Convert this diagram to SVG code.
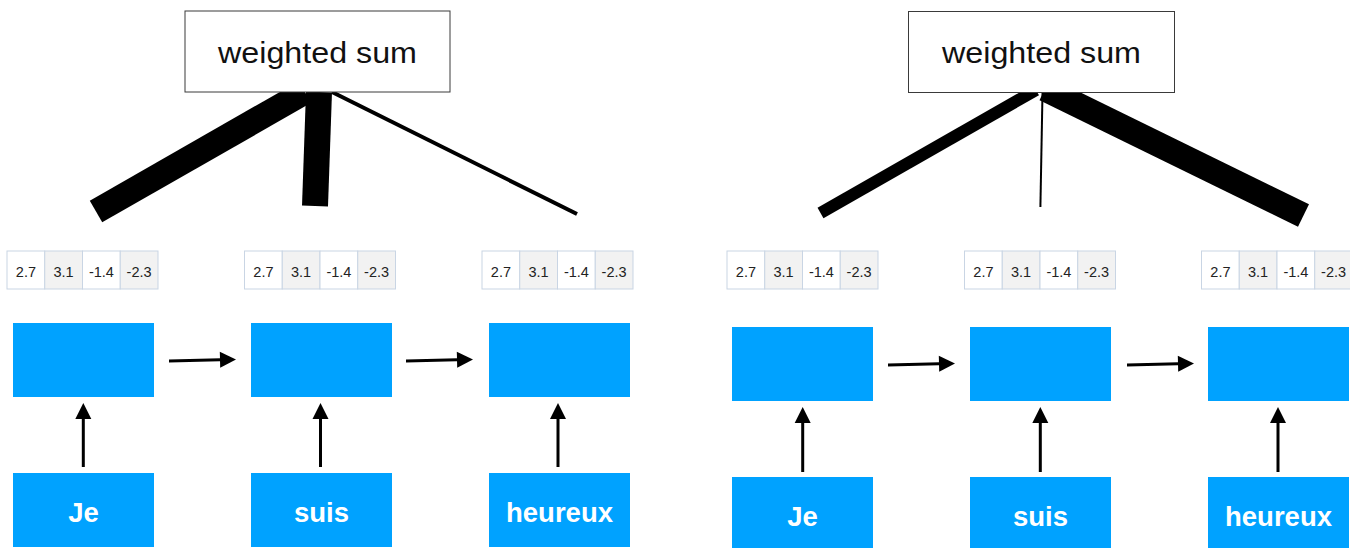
<svg xmlns="http://www.w3.org/2000/svg" xmlns:xlink="http://www.w3.org/1999/xlink" width="1350" height="548" viewBox="0 0 1350 548">
  <style>
    .sum rect { fill: #ffffff; stroke: #3a3a3a; stroke-width: 1; }
    .sum text { font-family: "Liberation Sans", Arial, sans-serif; font-size: 30px; fill: #111; text-anchor: middle; }
    .cell { stroke: #c9d5e4; stroke-width: 1; }
    .w { fill: #ffffff; }
    .g { fill: #f2f2f2; }
    .num { font-family: "Liberation Sans", Arial, sans-serif; font-size: 14.5px; fill: #222; text-anchor: middle; }
    .state { fill: #00a2ff; }
    .word rect { fill: #00a2ff; }
    .word text { font-family: "Liberation Sans", Arial, sans-serif; font-size: 27.5px; font-weight: bold; fill: #ffffff; text-anchor: middle; }
    .arrow { stroke: #000; stroke-width: 3; fill: none; marker-end: url(#head); }
    .weight { stroke: #000; stroke-linecap: butt; fill: none; }
  </style>
  <defs>
    <marker id="head" markerUnits="userSpaceOnUse" markerWidth="16" markerHeight="16" refX="0" refY="8" orient="auto" overflow="visible">
      <path d="M0,0 L16,8 L0,16 z" fill="#000"/>
    </marker>
    <!-- attention vector: four cells -->
    <g id="vec">
      <rect class="cell w" x="0" y="0" width="37.75" height="38"/>
      <rect class="cell g" x="37.75" y="0" width="37.75" height="38"/>
      <rect class="cell w" x="75.5" y="0" width="37.75" height="38"/>
      <rect class="cell g" x="113.25" y="0" width="37.75" height="38"/>
      <text class="num" x="18.9" y="26">2.7</text>
      <text class="num" x="56.6" y="26">3.1</text>
      <text class="num" x="94.4" y="26">-1.4</text>
      <text class="num" x="132.1" y="26">-2.3</text>
    </g>
  </defs>

  <rect width="1350" height="548" fill="#ffffff"/>

  <!-- connectors: attention weights and recurrent / input arrows -->
  <g id="connectors">
    <line class="weight" x1="96" y1="211.5" x2="305" y2="92" stroke-width="25"/>
    <line class="weight" x1="315" y1="206" x2="319" y2="92" stroke-width="26"/>
    <line class="weight" x1="332" y1="92" x2="577" y2="214" stroke-width="4"/>

    <line class="weight" x1="820.5" y1="213" x2="1036" y2="90" stroke-width="12"/>
    <line class="weight" x1="1040.4" y1="207" x2="1042.5" y2="93" stroke-width="2"/>
    <line class="weight" x1="1303.5" y1="215.5" x2="1045" y2="89" stroke-width="25"/>

    <line class="arrow" x1="169" y1="361" x2="220" y2="359.8"/>
    <line class="arrow" x1="406" y1="361" x2="457" y2="359.8"/>
    <line class="arrow" x1="888" y1="365" x2="939" y2="363.8"/>
    <line class="arrow" x1="1127" y1="365" x2="1178" y2="363.8"/>

    <line class="arrow" x1="83.3" y1="467" x2="83.3" y2="419"/>
    <line class="arrow" x1="320.5" y1="467" x2="320.5" y2="419"/>
    <line class="arrow" x1="558" y1="467" x2="558" y2="419"/>
    <line class="arrow" x1="802.7" y1="472" x2="802.7" y2="423"/>
    <line class="arrow" x1="1040.3" y1="472" x2="1040.3" y2="423"/>
    <line class="arrow" x1="1278" y1="472" x2="1278" y2="423"/>
  </g>

  <!-- left panel -->
  <g id="sum-left" class="sum">
    <rect x="185" y="11" width="265" height="81"/>
    <text x="317.5" y="63" textLength="199" lengthAdjust="spacingAndGlyphs">weighted sum</text>
  </g>
  <g id="vec-left-1"><use xlink:href="#vec" x="7" y="251"/></g>
  <g id="vec-left-2"><use xlink:href="#vec" x="244.5" y="251"/></g>
  <g id="vec-left-3"><use xlink:href="#vec" x="482" y="251"/></g>
  <g id="state-left-1"><rect class="state" x="13" y="323" width="141" height="74"/></g>
  <g id="state-left-2"><rect class="state" x="251" y="323" width="141" height="74"/></g>
  <g id="state-left-3"><rect class="state" x="489" y="323" width="141" height="74"/></g>
  <g id="word-left-1" class="word">
    <rect x="13" y="473" width="141" height="74"/>
    <text x="83.5" y="522">Je</text>
  </g>
  <g id="word-left-2" class="word">
    <rect x="251" y="473" width="141" height="74"/>
    <text x="321.5" y="522">suis</text>
  </g>
  <g id="word-left-3" class="word">
    <rect x="489" y="473" width="141" height="74"/>
    <text x="559.5" y="522">heureux</text>
  </g>

  <!-- right panel -->
  <g id="sum-right" class="sum">
    <rect x="908.5" y="11.5" width="266" height="81"/>
    <text x="1041.5" y="63" textLength="199" lengthAdjust="spacingAndGlyphs">weighted sum</text>
  </g>
  <g id="vec-right-1"><use xlink:href="#vec" x="727" y="251"/></g>
  <g id="vec-right-2"><use xlink:href="#vec" x="964.5" y="251"/></g>
  <g id="vec-right-3"><use xlink:href="#vec" x="1201.5" y="251"/></g>
  <g id="state-right-1"><rect class="state" x="732" y="327" width="141" height="74"/></g>
  <g id="state-right-2"><rect class="state" x="970" y="327" width="141" height="74"/></g>
  <g id="state-right-3"><rect class="state" x="1208" y="327" width="141" height="74"/></g>
  <g id="word-right-1" class="word">
    <rect x="732" y="477" width="141" height="74"/>
    <text x="802.5" y="526">Je</text>
  </g>
  <g id="word-right-2" class="word">
    <rect x="970" y="477" width="141" height="74"/>
    <text x="1040.5" y="526">suis</text>
  </g>
  <g id="word-right-3" class="word">
    <rect x="1208" y="477" width="141" height="74"/>
    <text x="1278.5" y="526">heureux</text>
  </g>
</svg>
